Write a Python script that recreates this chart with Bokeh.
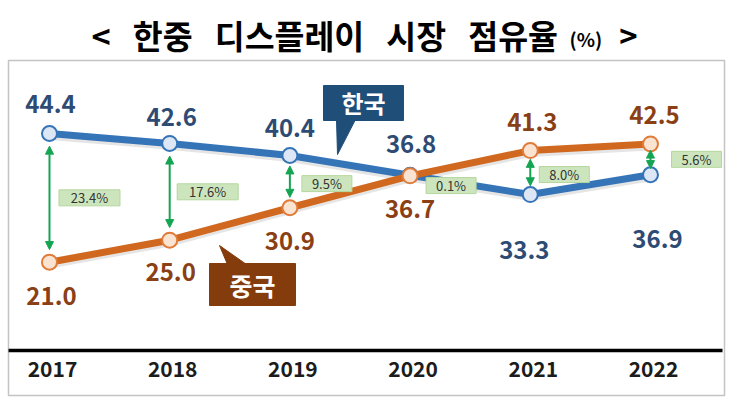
from bokeh.plotting import figure
from bokeh.models import Range1d, ColumnDataSource, Label, LabelSet, Arrow, NormalHead, BoxAnnotation
from bokeh.core.properties import value
from bokeh.embed import file_html
from bokeh.resources import INLINE

# ---------------- data ----------------
years = [2017, 2018, 2019, 2020, 2021, 2022]
year_labels = ["2017", "2018", "2019", "2020", "2021", "2022"]
korea = [44.4, 42.6, 40.4, 36.8, 33.3, 36.9]
china = [21.0, 25.0, 30.9, 36.7, 41.3, 42.5]
gap_labels = ["23.4%", "17.6%", "9.5%", "0.1%", "8.0%", "5.6%"]
korea_labels = ["44.4", "42.6", "40.4", "36.8", "33.3", "36.9"]
china_labels = ["21.0", "25.0", "30.9", "36.7", "41.3", "42.5"]

# ---------------- style ----------------
FONT = "Noto Sans CJK KR"
KOR_LINE = "#3674B8"
KOR_FILL = "#DCE6F4"
KOR_TEXT = "#2E4B74"
CHN_LINE = "#D0691F"
CHN_FILL = "#FBE3D2"
CHN_TEXT = "#8A4014"
GREEN = "#14A552"
GAP_BG = "#CDE5BD"

PX_YEAR = 120.2   # pixels per year
PX_UNIT = 5.5     # pixels per percentage point

def X(px):   # horizontal pixel position -> year scale
    return 2016.659 + (px - 8) / PX_YEAR

def Y(py):   # vertical pixel position -> value scale
    return 57.673 - (py - 60) / PX_UNIT

# label offsets in pixels (dx right, dy up)
kor_dx = [1, 2, 0, 1, -6, 7]
kor_dy = [30, 26, 28, 31, -55, -64]
chn_dx = [2, 1, 0, 0, 2, 4]
chn_dy = [-34, -32, -33, -33, 29, 29]
gap_dx = [40, 38, 37, 41, 34, 46]
gap_dy = [0, 0, -2, -10, -2, 0]

p = figure(width=740, height=400,
           x_range=Range1d(X(0), X(740)), y_range=Range1d(Y(400), Y(0)),
           output_backend="svg", toolbar_location=None,
           x_axis_location=None, y_axis_location=None,
           min_border_left=0, min_border_right=0, min_border_top=0, min_border_bottom=0)
p.grid.visible = False
p.outline_line_color = None
p.background_fill_color = "white"
p.border_fill_color = "white"

# chart box
p.add_layout(BoxAnnotation(left=X(8), right=X(724), top=Y(60), bottom=Y(395),
                           fill_alpha=0, line_color="#3a3a3a", line_width=1.5))

# axis line and year labels inside the box
p.line(x=[X(8), X(722)], y=[4.95, 4.95], line_color="black", line_width=3.5)
p.text(x=years, y=[1.6] * len(years), text=year_labels, x_offset=3,
       text_align="center", text_baseline="middle", text_font=value(FONT),
       text_font_size="21px", text_font_style="bold", text_color="#1c1c1c")

# line shadows
p.line(years, [v - 0.45 for v in korea], line_color="#000000", line_alpha=0.10, line_width=8)
p.line(years, [v - 0.45 for v in china], line_color="#000000", line_alpha=0.10, line_width=8)

# Korea series
p.line(years, korea, line_color=KOR_LINE, line_width=7, line_join="round")
p.scatter(years, korea, size=15, fill_color=KOR_FILL, line_color=KOR_LINE, line_width=2)
# China series
p.line(years, china, line_color=CHN_LINE, line_width=7, line_join="round")
p.scatter(years, china, size=15, fill_color=CHN_FILL, line_color="#E07B39", line_width=2)

# difference arrows
ax, ay0, ay1 = [], [], []
for yr, k, c in zip(years, korea, china):
    d = abs(k - c)
    if d < 1:
        continue
    hi, lo = max(k, c), min(k, c)
    g = min(2.3, 0.2 * d)
    ax.append(yr); ay0.append(hi - g); ay1.append(lo + g)
asrc = ColumnDataSource(dict(x=ax, y0=ay0, y1=ay1))
p.add_layout(Arrow(start=NormalHead(size=8, fill_color=GREEN, line_color=GREEN),
                   end=NormalHead(size=8, fill_color=GREEN, line_color=GREEN),
                   x_start="x", y_start="y0", x_end="x", y_end="y1",
                   line_color=GREEN, line_width=2, source=asrc))

# difference labels (boxes + text)
gx = [yr + dx / PX_YEAR for yr, dx in zip(years, gap_dx)]
gy = [(k + c) / 2 + dy / PX_UNIT for k, c, dy in zip(korea, china, gap_dy)]
gw = [11 * len(t) + 6 for t in gap_labels]
gsrc = ColumnDataSource(dict(x=gx, y=gy, t=gap_labels, w=gw))
p.rect(x="x", y="y", width="w", height=16, width_units="screen", height_units="screen",
       fill_color=GAP_BG, line_color="#B5D69E", line_width=1, source=gsrc)
p.text(x="x", y="y", text="t", source=gsrc, text_align="center", text_baseline="middle",
       text_font=value(FONT), text_font_size="13px", text_color="#333333")

# value labels
ksrc = ColumnDataSource(dict(x=years, y=korea, t=korea_labels, dx=kor_dx, dy=kor_dy))
p.add_layout(LabelSet(x="x", y="y", text="t", source=ksrc, x_offset="dx", y_offset="dy",
                      text_align="center", text_baseline="middle",
                      text_font=value(FONT), text_font_size="24px", text_font_style="bold",
                      text_color=KOR_TEXT))
csrc = ColumnDataSource(dict(x=years, y=china, t=china_labels, dx=chn_dx, dy=chn_dy))
p.add_layout(LabelSet(x="x", y="y", text="t", source=csrc, x_offset="dx", y_offset="dy",
                      text_align="center", text_baseline="middle",
                      text_font=value(FONT), text_font_size="24px", text_font_style="bold",
                      text_color=CHN_TEXT))

# callouts
p.quad(left=[X(323)], right=[X(403)], top=[Y(85)], bottom=[Y(120)],
       fill_color="#1F4E79", line_color="#1F4E79")
p.patch([X(336), X(355), X(337)], [Y(119), Y(119), Y(154)], fill_color="#1F4E79", line_color="#1F4E79")
p.add_layout(Label(x=X(363), y=Y(102), text="한국", text_align="center", text_baseline="middle",
                   text_font=FONT, text_font_size="24px", text_font_style="bold", text_color="white"))

p.quad(left=[X(209)], right=[X(295)], top=[Y(263)], bottom=[Y(305)],
       fill_color="#843C0C", line_color="#843C0C")
p.patch([X(227), X(246), X(219)], [Y(264), Y(264), Y(245)], fill_color="#843C0C", line_color="#843C0C")
p.add_layout(Label(x=X(252), y=Y(284), text="중국", text_align="center", text_baseline="middle",
                   text_font=FONT, text_font_size="25px", text_font_style="bold", text_color="white"))

# title
NB3 = "\u00a0" * 3
p.add_layout(Label(x=X(91), y=Y(34),
                   text="<" + NB3 + "한중" + NB3 + "디스플레이" + NB3 + "시장" + NB3 + "점유율",
                   text_align="left", text_baseline="middle",
                   text_font=FONT, text_font_size="32.5px", text_font_style="bold", text_color="black"))
p.add_layout(Label(x=X(569), y=Y(38), text="(%)",
                   text_align="left", text_baseline="middle",
                   text_font=FONT, text_font_size="19px", text_font_style="bold", text_color="black"))
p.add_layout(Label(x=X(628), y=Y(34), text=">",
                   text_align="center", text_baseline="middle",
                   text_font=FONT, text_font_size="31px", text_font_style="bold", text_color="black"))

open("out.html", "w").write(file_html(p, INLINE))
